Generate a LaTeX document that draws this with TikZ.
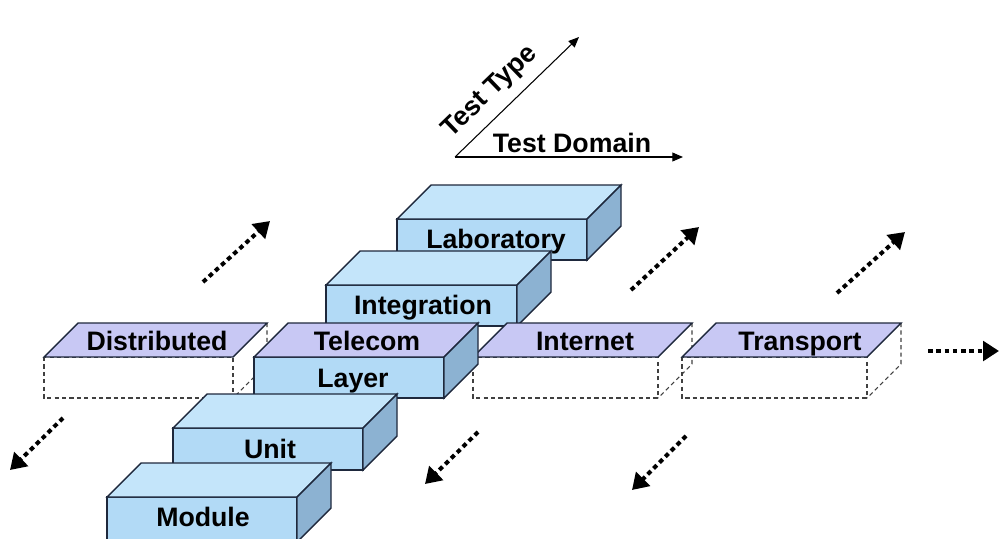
\documentclass[tikz,border=0pt]{standalone}
\usepackage{fontspec}
\setmainfont{Liberation Sans}
\usetikzlibrary{arrows.meta}

\definecolor{boxfront}{RGB}{178,218,246}
\definecolor{boxtop}{RGB}{196,229,250}
\definecolor{boxside}{RGB}{140,178,210}
\definecolor{slabtop}{RGB}{200,200,244}
\definecolor{edgecol}{RGB}{30,40,60}

% depth offset and face height of every block, in picture units
\def\dd{34}
\def\hh{41}

% solid block: name, left x, top y of front face, width, height, top colour
\newcommand{\cuboid}[6]{%
  \draw[edge, fill=boxfront] (#2,#3) rectangle ++(#4,#5);
  \draw[edge, fill=#6] (#2,#3) -- ++(\dd,-\dd) -- ++(#4,0) -- ++(-\dd,\dd) -- cycle;
  \draw[edge, fill=boxside] (#2+#4,#3) -- ++(\dd,-\dd) -- ++(0,#5) -- ++(-\dd,\dd) -- cycle;
  \coordinate (#1) at (#2+#4/2,#3+#5/2);
}

% domain slab with the dashed outline of an empty block below it:
% name, left x, y of front edge, width
\newcommand{\slab}[4]{%
  \draw[hidden] (#2,#3) rectangle ++(#4,\hh);
  \draw[hidden] (#2+#4+\dd,#3-\dd) -- ++(0,\hh) -- ++(-\dd,\dd);
  \draw[edge, fill=slabtop] (#2,#3) -- ++(\dd,-\dd) -- ++(#4,0) -- ++(-\dd,\dd) -- cycle;
  \coordinate (#1) at (#2+#4/2,#3);
}

\begin{document}
\begin{tikzpicture}[x=0.02cm, y=-0.02cm,
  edge/.style={draw=edgecol, line width=0.8pt, line join=miter},
  hidden/.style={draw=black!75, line width=0.6pt, dash pattern=on 2.4pt off 1.8pt},
  lbl/.style={font=\fontsize{15.2}{18}\selectfont\bfseries, text=black, inner sep=0pt},
  blbl/.style={lbl, anchor=base},
  axis/.style={draw=black, line width=0.6pt, -{Triangle[length=6pt,width=5pt]}},
  dotarrow/.style={draw=black, line width=2.3pt, dash pattern=on 2.6pt off 2.1pt,
    -{Triangle[length=9pt,width=11pt]}}]

\useasboundingbox (0,0) rectangle (1000,538);

% ---- axes of the classification ----
\coordinate (orig) at (455,157);
\coordinate (typeEnd) at (579,37);
\coordinate (domEnd) at (683,157);
\draw[axis] (orig) -- (typeEnd);
\draw[axis] (orig) -- (domEnd);
\node[lbl, rotate=44] (ttype) at (490,92) {Test Type};
\node[blbl] (tdomain) at (572,152) {Test Domain};

% ---- domain slabs ----
\slab{distr}{44}{357}{189}
\node[blbl] (distrLbl) at (157,350) {Distributed};

% ---- test-type blocks, back to front ----
\cuboid{lab}{397}{219}{190}{\hh}{boxtop}
\node[blbl] (labLbl) at (496,248) {Laboratory};
\cuboid{integ}{326}{285}{191}{\hh}{boxtop}
\node[blbl] (integLbl) at (423,314) {Integration};

\slab{inet}{473}{357}{185}
\node[blbl] (inetLbl) at (585,350) {Internet};
\slab{trans}{682}{357}{185}
\node[blbl] (transLbl) at (800,350) {Transport};

\cuboid{layer}{254}{357}{190}{\hh}{slabtop}
\node[blbl] (telLbl) at (367,350) {Telecom};
\node[blbl] (layerLbl) at (353,387) {Layer};

\cuboid{unit}{173}{428}{190}{42}{boxtop}
\node[blbl] (unitLbl) at (270,458) {Unit};
\cuboid{module}{107}{497}{190}{45}{boxtop}
\node[blbl] (moduleLbl) at (203,526) {Module};

% ---- continuation arrows ----
\coordinate (h0) at (928,351);  \coordinate (h1) at (999,351);
\draw[dotarrow] (h0) -- (h1);

\coordinate (u1s) at (203,282); \coordinate (u1e) at (270,221);
\coordinate (u2s) at (631,290); \coordinate (u2e) at (699,227);
\coordinate (u3s) at (837,293); \coordinate (u3e) at (905,232);
\draw[dotarrow] (u1s) -- (u1e);
\draw[dotarrow] (u2s) -- (u2e);
\draw[dotarrow] (u3s) -- (u3e);

\coordinate (d1s) at (63,418);  \coordinate (d1e) at (10,470);
\coordinate (d2s) at (478,432); \coordinate (d2e) at (425,484);
\coordinate (d3s) at (686,436); \coordinate (d3e) at (632,490);
\draw[dotarrow] (d1s) -- (d1e);
\draw[dotarrow] (d2s) -- (d2e);
\draw[dotarrow] (d3s) -- (d3e);

\end{tikzpicture}
\end{document}
